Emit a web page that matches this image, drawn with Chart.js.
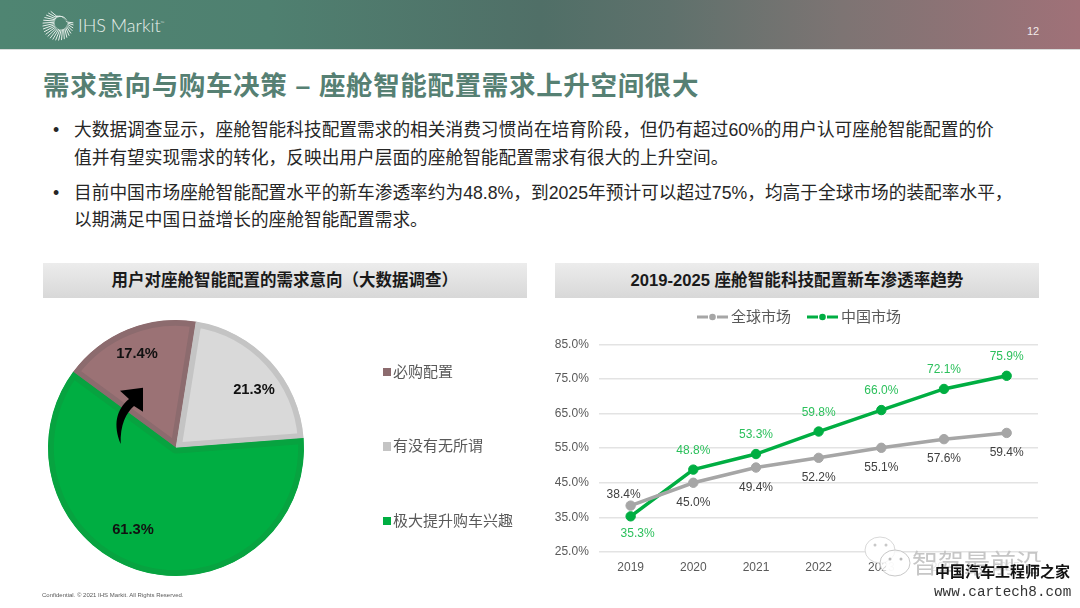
<!DOCTYPE html>
<html><head><meta charset="utf-8">
<script src="https://cdn.jsdelivr.net/npm/chart.js@4"></script>
<style>
html,body{margin:0;padding:0;background:#fff;}
#slide{position:relative;width:1080px;height:608px;overflow:hidden;font-family:"Liberation Sans","Noto Sans CJK SC",sans-serif;background:#fff;}
.abs{position:absolute;white-space:nowrap;}
#hdr{left:0;top:0;width:1080px;height:49px;background:linear-gradient(90deg,#4f8572 0%,#4f8070 25%,#506f67 50%,#5f716c 62%,#7d7473 78%,#a07178 100%);border-bottom:1px solid #d9dcdb;}
#title{left:43px;top:64px;font-size:26.5px;font-weight:700;color:#568073;letter-spacing:.66px;}
.bul{font-size:17.7px;color:#262626;line-height:27.5px;}
.bar{top:263px;height:35px;background:linear-gradient(180deg,#ececec,#d8d8d8);text-align:center;font-size:16.5px;font-weight:700;line-height:35px;color:#1a1a1a;}
.lg{font-size:15px;color:#595959;left:393px;line-height:20px;}
.sw{left:382.5px;width:8.5px;height:8.5px;}
canvas{position:absolute;}
</style></head><body>
<div id="slide">
<div class="abs" id="hdr"></div>
<svg class="abs" id="logo" style="left:41px;top:8px" width="34" height="34"></svg>
<div class="abs" style="left:78px;top:14px;font-size:18px;font-weight:300;color:#e6eeea;font-family:Lato,sans-serif;">IHS Markit<span style="font-size:5px;vertical-align:super">™</span></div>
<div class="abs" style="left:1027px;top:25px;font-size:11px;color:#f2eaea;">12</div>
<div class="abs" id="title">需求意向与购车决策 – 座舱智能配置需求上升空间很大</div>
<div class="abs bul" style="top:117px;left:53px">•</div>
<div class="abs bul" style="top:117px;left:74px">大数据调查显示，座舱智能科技配置需求的相关消费习惯尚在培育阶段，但仍有超过60%的用户认可座舱智能配置的价<br>值并有望实现需求的转化，反映出用户层面的座舱智能配置需求有很大的上升空间。</div>
<div class="abs bul" style="top:179.5px;left:53px">•</div>
<div class="abs bul" style="top:179.5px;left:74px">目前中国市场座舱智能配置水平的新车渗透率约为48.8%，到2025年预计可以超过75%，均高于全球市场的装配率水平，<br>以期满足中国日益增长的座舱智能配置需求。</div>
<div class="abs bar" style="left:42.5px;width:484.5px">用户对座舱智能配置的需求意向（大数据调查）</div>
<div class="abs bar" style="left:555px;width:484px;font-size:16.6px">2019-2025 座舱智能科技配置新车渗透率趋势</div>
<canvas id="pie" style="left:38px;top:309.5px" width="276" height="276"></canvas>
<canvas id="line" style="left:545px;top:302px" width="500" height="280"></canvas>
<svg class="abs" style="left:0;top:0" width="1080" height="608">
<path d="M120.7 444 C113 425 116 410 129 399 L120 390.7 L143 387.7 L143 411.7 L134 406 C126 413 120 425 120.7 444Z" fill="#000"/>
</svg>
<div class="abs sw" style="top:367.5px;background:#8c6b6e"></div><div class="abs lg" style="top:361.5px">必购配置</div>
<div class="abs sw" style="top:442px;background:#c4c4c4"></div><div class="abs lg" style="top:436px">有没有无所谓</div>
<div class="abs sw" style="top:516.5px;background:#00ae42"></div><div class="abs lg" style="top:510.5px">极大提升购车兴趣</div>
<div class="abs" style="left:42px;top:592px;font-size:6px;color:#595959;">Confidential. © 2021 IHS Markit. All Rights Reserved.</div>
<div class="abs" style="left:886px;top:556px;width:194px;height:52px;background:rgba(255,255,255,.86)"></div>
<svg class="abs" style="left:860px;top:530px" width="60" height="60">
<ellipse cx="20" cy="20" rx="15" ry="13" fill="#fff" stroke="#d8d8d8" stroke-width="1"/>
<ellipse cx="35" cy="33" rx="15" ry="13" fill="rgba(255,255,255,.75)" stroke="#c8c8c8" stroke-width="1"/>
<circle cx="15" cy="15" r="1.5" fill="#c8c8c8"/><circle cx="26" cy="15" r="1.5" fill="#c8c8c8"/>
<circle cx="30" cy="29" r="1.5" fill="#bbb"/><circle cx="41" cy="29" r="1.5" fill="#bbb"/>
</svg>
<div class="abs" style="left:912px;top:543px;font-size:26px;color:#c6c6c6;">智驾最前沿</div>
<div class="abs" style="left:935px;top:561px;font-size:15px;line-height:20px;font-weight:700;color:#111;font-family:'Noto Sans CJK SC'">中国汽车工程师之家</div>
<div class="abs" style="left:934px;top:583px;font-size:14.3px;line-height:18px;color:#333;font-family:'Liberation Mono','DejaVu Sans Mono',monospace;">www.cartech8.com</div>
</div>
<script>
const pieLabels=['必购配置','有没有无所谓','极大提升购车兴趣'];
const pieValues=[17.4,21.3,61.3];
const pieFill=['#9b7275','#d9d9d9','#00ae42'];
const pieEdge=['#8c6b6e','#c4c4c4','#07a340'];
const years=['2019','2020','2021','2022','2023','2024','2025'];
const globalMarket=[38.4,45.0,49.4,52.2,55.1,57.6,59.4];
const chinaMarket=[35.3,48.8,53.3,59.8,66.0,72.1,75.9];
const yTicks=[25,35,45,55,65,75,85];
const logo=document.getElementById('logo');let rays='';
for(let a=0;a<360;a+=11){const r=a*Math.PI/180,x1=20+6.5*Math.cos(r),y1=15+6.5*Math.sin(r),R=(a>250&&a<350)?9:15.5;
rays+=`<line x1="${x1}" y1="${y1}" x2="${17+R*Math.cos(r)}" y2="${17+R*Math.sin(r)}" stroke="#e6eeea" stroke-width="1"/>`;}
logo.innerHTML=rays;
const sans='"Liberation Sans","Noto Sans CJK SC",sans-serif';
const pct=v=>v.toFixed(1)+'%';
const pieLabelOffsets=[[-39,-94],[78,-58],[-43,82]];
const pieLabelPlugin={id:'pieLabels',afterDatasetsDraw(c){const x=c.ctx;const m=c.getDatasetMeta(0);x.save();x.font='700 14.7px '+sans;x.fillStyle='#111';x.textAlign='center';x.textBaseline='middle';
 m.data.forEach((a,i)=>{x.fillText(pct(pieValues[i]),a.x+pieLabelOffsets[i][0],a.y+pieLabelOffsets[i][1]);});x.restore();}};
new Chart(document.getElementById('pie'),{type:'pie',data:{labels:pieLabels,datasets:[{data:pieValues,backgroundColor:pieFill,borderColor:pieEdge,borderWidth:5.5,borderAlign:'inner',hoverOffset:0}]},
 options:{responsive:false,animation:false,rotation:306.4,layout:{padding:10},plugins:{legend:{display:false},tooltip:{enabled:false}}},plugins:[pieLabelPlugin]});
const lineLabelPlugin={id:'lineLabels',afterDatasetsDraw(c){const x=c.ctx;x.save();x.font='12px '+sans;x.textAlign='center';x.textBaseline='middle';
 c.getDatasetMeta(0).data.forEach((p,i)=>{x.fillStyle='#404040';const dx=i==0?-7:0,dy=i==0?-11:20;x.fillText(pct(globalMarket[i]),p.x+dx,p.y+dy);});
 c.getDatasetMeta(1).data.forEach((p,i)=>{x.fillStyle='#2cc05c';const dx=i==0?7:0,dy=i==0?17:-19;x.fillText(pct(chinaMarket[i]),p.x+dx,p.y+dy);});
 const keys=[152,262];
 c.data.datasets.forEach((d,i)=>{const k=keys[i],y=15;x.strokeStyle=d.borderColor;x.lineWidth=3;x.beginPath();x.moveTo(k,y);x.lineTo(k+11,y);x.moveTo(k+20,y);x.lineTo(k+31,y);x.stroke();
  x.fillStyle=d.borderColor;x.beginPath();x.arc(k+15.5,y,3.3,0,Math.PI*2);x.fill();
  x.fillStyle='#595959';x.font='15px '+sans;x.textAlign='left';x.fillText(d.label,k+34,y+1);});
 x.restore();}};
new Chart(document.getElementById('line'),{type:'line',data:{labels:years,datasets:[
 {label:'全球市场',data:globalMarket,borderColor:'#a6a6a6',backgroundColor:'#a6a6a6',borderWidth:3.5,pointRadius:4.7,pointBorderWidth:1,pointBackgroundColor:'#a6a6a6',tension:0},
 {label:'中国市场',data:chinaMarket,borderColor:'#00ae42',backgroundColor:'#00ae42',borderWidth:3.5,pointRadius:4.7,pointBorderWidth:1,pointBackgroundColor:'#00ae42',tension:0}]},
 options:{responsive:false,animation:false,
 layout:{padding:{left:0,right:7,top:42.3,bottom:0}},
 plugins:{tooltip:{enabled:false},legend:{display:false}},
 scales:{x:{offset:true,afterFit(a){a.height=30;},grid:{display:false,drawTicks:false},border:{display:false},ticks:{color:'#595959',font:{size:12,family:sans},padding:8,maxRotation:0}},
 y:{min:25,max:85,afterBuildTicks(a){a.ticks=yTicks.map(v=>({value:v}));},afterFit(a){a.width=54.3;},grid:{color:'#e3e3e3',lineWidth:1.4,drawTicks:false},border:{display:false},ticks:{color:'#595959',font:{size:12,family:sans},padding:10.5,callback:v=>v.toFixed(1)+'%'}}}},
 plugins:[lineLabelPlugin]});
</script>
</body></html>
